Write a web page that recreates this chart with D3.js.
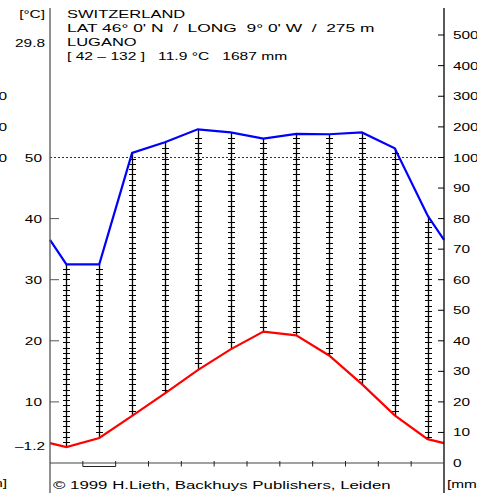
<!DOCTYPE html>
<html>
<head>
<meta charset="utf-8">
<script src="https://cdn.jsdelivr.net/npm/d3@7"></script>
<style>
  body { margin: 0; background: #fff; }
  svg { display: block; }
  text { font-family: "Liberation Sans", Arial, sans-serif; font-size: 11px; fill: #000; white-space: pre; }
</style>
</head>
<body>
<svg id="chart" width="477" height="493"></svg>
<script>
// station data (Lugano, Walter-Lieth diagram)
var months = ["Jan", "Feb", "Mar", "Apr", "May", "Jun", "Jul", "Aug", "Sep", "Oct", "Nov", "Dec"];
var tempC = [2.6, 4.1, 7.7, 11.4, 15.2, 18.6, 21.5, 20.9, 17.6, 12.9, 7.8, 3.9];
var precipMm = [65, 65, 115, 150, 192, 182, 162, 177, 176, 182, 130, 81];
var frostMonths = ["Feb"];

var headerLines = [
  "SWITZERLAND",
  "LAT 46° 0' N  /  LONG  9° 0' W  /  275 m",
  "LUGANO",
  "[ 42 \u2013 132 ]   11.9 °C   1687 mm"
];
var maxTempLabel = "29.8";
var minTempLabel = "\u20131.2";
var tempTicks = [10, 20, 30, 40, 50];
var precipTicks = [0, 10, 20, 30, 40, 50, 60, 70, 80, 90, 100, 200, 300, 400, 500];
var leftCutTicks = [100, 200, 300];
var copyright = "© 1999 H.Lieth, Backhuys Publishers, Leiden";

var svg = d3.select("#chart");
var left = 50, right = 444, bottom = 463;
var sx = 1.5; // text is drawn wide

var x = d3.scaleLinear().domain([0, 12]).range([left, right]);
var yT = d3.scaleLinear().domain([0, 50]).range([bottom, 157.5]);
var yP = d3.scaleLinear().domain([0, 100, 500]).range([bottom, 157.5, 35]);

function label(txt, tx, ty, anchor, s) {
  return svg.append("text")
    .attr("transform", "translate(" + tx + "," + ty + ") scale(" + (s || sx) + ",1)")
    .attr("text-anchor", anchor || "start")
    .text(txt);
}

// values at month centres plus edges (mean of Dec and Jan)
function withEdges(vals) {
  var edge = (vals[0] + vals[11]) / 2;
  var pts = [[0, edge]];
  vals.forEach(function(v, i) { pts.push([i + 0.5, v]); });
  pts.push([12, edge]);
  return pts;
}

// 100 mm dotted line
svg.append("line")
  .attr("x1", left).attr("x2", right)
  .attr("y1", yP(100)).attr("y2", yP(100))
  .style("stroke", "#333").style("stroke-width", 1)
  .style("stroke-dasharray", "2,2");

// humid period hatching
var hatch = svg.append("g");
months.forEach(function(m, i) {
  var xc = Math.round(x(i + 0.5)) + 0.5;
  var yTop = yP(precipMm[i]), yBot = yT(tempC[i]);
  if (yTop >= yBot) return;
  hatch.append("line")
    .attr("x1", xc).attr("x2", xc).attr("y1", yTop).attr("y2", yBot)
    .style("stroke", "#000").style("stroke-width", 1.3);
  var ticks = d3.range(bottom, 0, -5.25).filter(function(t) { return t > yTop + 3 && t < yBot - 2; });
  hatch.selectAll(null).data(ticks).join("line")
    .attr("x1", xc - 3.5).attr("x2", xc + 3.5)
    .attr("y1", function(t) { return Math.round(t) + 0.5; })
    .attr("y2", function(t) { return Math.round(t) + 0.5; })
    .style("stroke", "#000").style("stroke-width", 1);
});

// curves
var line = d3.line().x(function(d) { return x(d[0]); });
svg.append("path")
  .datum(withEdges(precipMm))
  .attr("d", line.y(function(d) { return yP(d[1]); }))
  .style("fill", "none").style("stroke", "#0000ff").style("stroke-width", 2.2);
svg.append("path")
  .datum(withEdges(tempC))
  .attr("d", line.y(function(d) { return yT(d[1]); }))
  .style("fill", "none").style("stroke", "#ff0000").style("stroke-width", 2.2);

// axes
svg.append("line").attr("x1", left).attr("x2", left).attr("y1", 8).attr("y2", 493)
  .style("stroke", "#555").style("stroke-width", 1.3);
svg.append("line").attr("x1", right).attr("x2", right).attr("y1", 8).attr("y2", 493)
  .style("stroke", "#000").style("stroke-width", 1.3);
svg.append("line").attr("x1", left).attr("x2", right).attr("y1", bottom).attr("y2", bottom)
  .style("stroke", "#444").style("stroke-width", 1);

// month boundary ticks
d3.range(1, 12).forEach(function(k) {
  svg.append("line").attr("x1", x(k)).attr("x2", x(k)).attr("y1", bottom - 2).attr("y2", bottom + 3.5)
    .style("stroke", "#222").style("stroke-width", 1);
});
frostMonths.forEach(function(m) {
  var i = months.indexOf(m);
  svg.append("line").attr("x1", x(i)).attr("x2", x(i + 1)).attr("y1", bottom + 3.5).attr("y2", bottom + 3.5)
    .style("stroke", "#222").style("stroke-width", 1);
});

// left temperature axis
tempTicks.forEach(function(t) {
  if (t < 50) {
    svg.append("line").attr("x1", left).attr("x2", left + 9).attr("y1", yT(t)).attr("y2", yT(t))
      .style("stroke", "#555").style("stroke-width", 1);
  }
  label(String(t), 42, yT(t) + 4, "end", 1.4);
});
label(minTempLabel, 45, bottom - 13, "end", 1.4);
label(maxTempLabel, 45, 47, "end", 1.4);
label("[°C]", 45, 18, "end", 1.4);

// cut-off labels at the left edge (the reference is cropped there)
leftCutTicks.forEach(function(p) { label(String(p), 7, yP(p) + 4, "end", 1.4); });
label("[mm]", 7, 487, "end", 1.4);

// right precipitation axis
precipTicks.forEach(function(p) {
  if (p > 0) {
    svg.append("line").attr("x1", right - 6).attr("x2", right).attr("y1", yP(p)).attr("y2", yP(p))
      .style("stroke", "#000").style("stroke-width", 1);
  }
  label(String(p), 453, yP(p) + 4, "start", 1.4);
});
label("[mm", 447, 488, "start", 1.4);

// header
headerLines.forEach(function(s, i) { label(s, 67, 18 + i * 14, "start", i === 3 ? 1.42 : (i === 1 ? 1.58 : sx)); });
label(copyright, 53, 489, "start", 1.53);
</script>
</body>
</html>
